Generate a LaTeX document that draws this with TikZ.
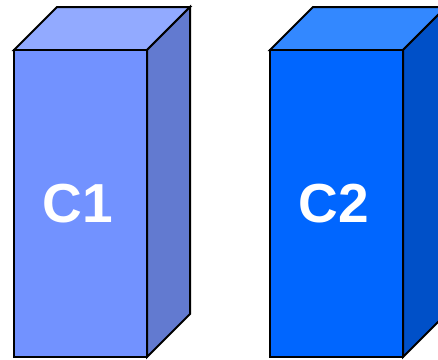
\documentclass[tikz,border=0pt]{standalone}
\usepackage{fontspec}
\setmainfont{Liberation Sans}
\definecolor{aFront}{RGB}{114,146,255}
\definecolor{aTop}{RGB}{146,170,255}
\definecolor{aSide}{RGB}{98,122,208}
\definecolor{bFront}{RGB}{0,102,255}
\definecolor{bTop}{RGB}{51,136,255}
\definecolor{bSide}{RGB}{0,80,200}
\begin{document}
\begin{tikzpicture}[x=1pt,y=-1pt,
  edge/.style={draw=black,line width=2pt,line join=miter},
  label/.style={text=white,font=\bfseries\fontsize{55}{55}\selectfont,inner sep=0pt}]
\useasboundingbox (0,0) rectangle (438,359);
\clip (0,0) rectangle (438,359);
% column C1
\filldraw[edge,fill=aTop] (14,50) -- (57,7) -- (190,7) -- (147,50) -- cycle;
\filldraw[edge,fill=aSide] (147,50) -- (190,7) -- (190,314) -- (147,357) -- cycle;
\filldraw[edge,fill=aFront] (14,50) rectangle (147,357);
\node[label] (c1) at (77.5,204) {C1};
% column C2
\filldraw[edge,fill=bTop] (270,50) -- (313,7) -- (446,7) -- (403,50) -- cycle;
\filldraw[edge,fill=bSide] (403,50) -- (446,7) -- (446,314) -- (403,357) -- cycle;
\filldraw[edge,fill=bFront] (270,50) rectangle (403,357);
\node[label] (c2) at (334,204) {C2};
\end{tikzpicture}
\end{document}
